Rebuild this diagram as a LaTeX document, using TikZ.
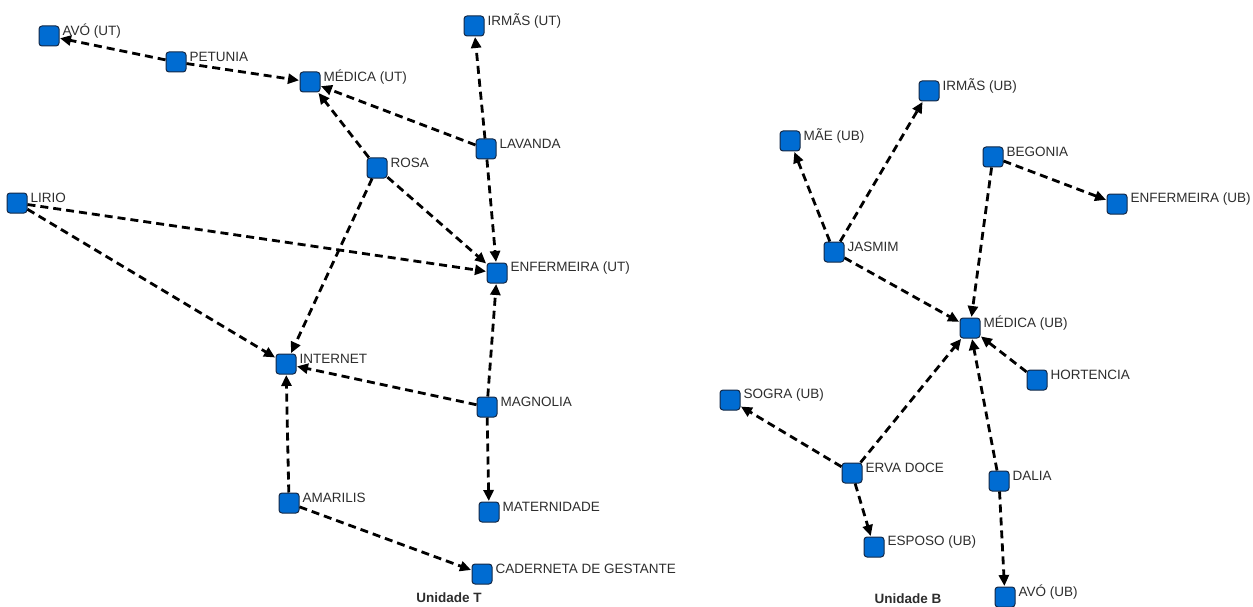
\documentclass[tikz,border=0pt]{standalone}
\usepackage{fontspec}
\setmainfont{Liberation Sans}
\usetikzlibrary{arrows.meta}
\definecolor{nodeblue}{RGB}{0,108,210}
\definecolor{nodeedge}{RGB}{20,40,70}
\definecolor{labgray}{RGB}{45,45,45}
\tikzset{
  x=1pt, y=-1pt,
  nd/.style={rectangle, rounded corners=3pt, minimum size=20pt, inner sep=0pt,
    fill=nodeblue, draw=nodeedge, line width=1pt,
    label={[anchor=west, xshift=3pt, yshift=5pt, inner sep=0pt, text=labgray,
      font=\fontsize{13.5}{15}\selectfont]east:#1}},
  ed/.style={line width=2.8pt, dash pattern=on 8pt off 5pt,
    -{Triangle[length=11pt,width=10pt]}, shorten >=0.5pt},
  ttl/.style={font=\fontsize{13.5}{15}\selectfont\bfseries, text=labgray}
}
\begin{document}
\begin{tikzpicture}
\useasboundingbox (0,0) rectangle (1253,607);
% Unidade T
\node[nd={AVÓ (UT)}] (avout) at (49,36) {};
\node[nd={PETUNIA}] (petunia) at (176,62) {};
\node[nd={MÉDICA (UT)}] (medut) at (310,82) {};
\node[nd={IRMÃS (UT)}] (irmut) at (474,26) {};
\node[nd={LAVANDA}] (lavanda) at (486,149) {};
\node[nd={ROSA}] (rosa) at (377,168) {};
\node[nd={LIRIO}] (lirio) at (17,203) {};
\node[nd={ENFERMEIRA (UT)}] (enfut) at (497,273) {};
\node[nd={INTERNET}] (internet) at (286,364) {};
\node[nd={MAGNOLIA}] (magnolia) at (487,407) {};
\node[nd={AMARILIS}] (amarilis) at (289,503) {};
\node[nd={MATERNIDADE}] (matern) at (489,512) {};
\node[nd={CADERNETA DE GESTANTE}] (cader) at (482,574) {};
\node[ttl] (utitle) at (449,598) {Unidade T};
\draw[ed] (petunia) -- (avout);
\draw[ed] (petunia) -- (medut);
\draw[ed] (rosa) -- (medut);
\draw[ed] (lavanda) -- (medut);
\draw[ed] (lavanda) -- (irmut);
\draw[ed] (lavanda) -- (enfut);
\draw[ed] (rosa) -- (enfut);
\draw[ed] (rosa) -- (internet);
\draw[ed] (lirio) -- (enfut);
\draw[ed] (lirio) -- (internet);
\draw[ed] (magnolia) -- (enfut);
\draw[ed] (magnolia) -- (internet);
\draw[ed] (magnolia) -- (matern);
\draw[ed] (amarilis) -- (internet);
\draw[ed] (amarilis) -- (cader);
% Unidade B
\node[nd={IRMÃS (UB)}] (irmub) at (929,91) {};
\node[nd={MÃE (UB)}] (maeub) at (790,141) {};
\node[nd={BEGONIA}] (begonia) at (993,157) {};
\node[nd={ENFERMEIRA (UB)}] (enfub) at (1117,204) {};
\node[nd={JASMIM}] (jasmim) at (834,252) {};
\node[nd={MÉDICA (UB)}] (medub) at (970,328) {};
\node[nd={HORTENCIA}] (hortencia) at (1037,380) {};
\node[nd={SOGRA (UB)}] (sogra) at (730,400) {};
\node[nd={ERVA DOCE}] (erva) at (852,473) {};
\node[nd={DALIA}] (dalia) at (999,481) {};
\node[nd={ESPOSO (UB)}] (esposo) at (874,547) {};
\node[nd={AVÓ (UB)}] (avoub) at (1005,597) {};
\node[ttl] (btitle) at (908,599) {Unidade B};
\draw[ed] (jasmim) -- (maeub);
\draw[ed] (jasmim) -- (irmub);
\draw[ed] (jasmim) -- (medub);
\draw[ed] (begonia) -- (medub);
\draw[ed] (begonia) -- (enfub);
\draw[ed] (hortencia) -- (medub);
\draw[ed] (erva) -- (medub);
\draw[ed] (erva) -- (sogra);
\draw[ed] (erva) -- (esposo);
\draw[ed] (dalia) -- (medub);
\draw[ed] (dalia) -- (avoub);
\end{tikzpicture}
\end{document}
